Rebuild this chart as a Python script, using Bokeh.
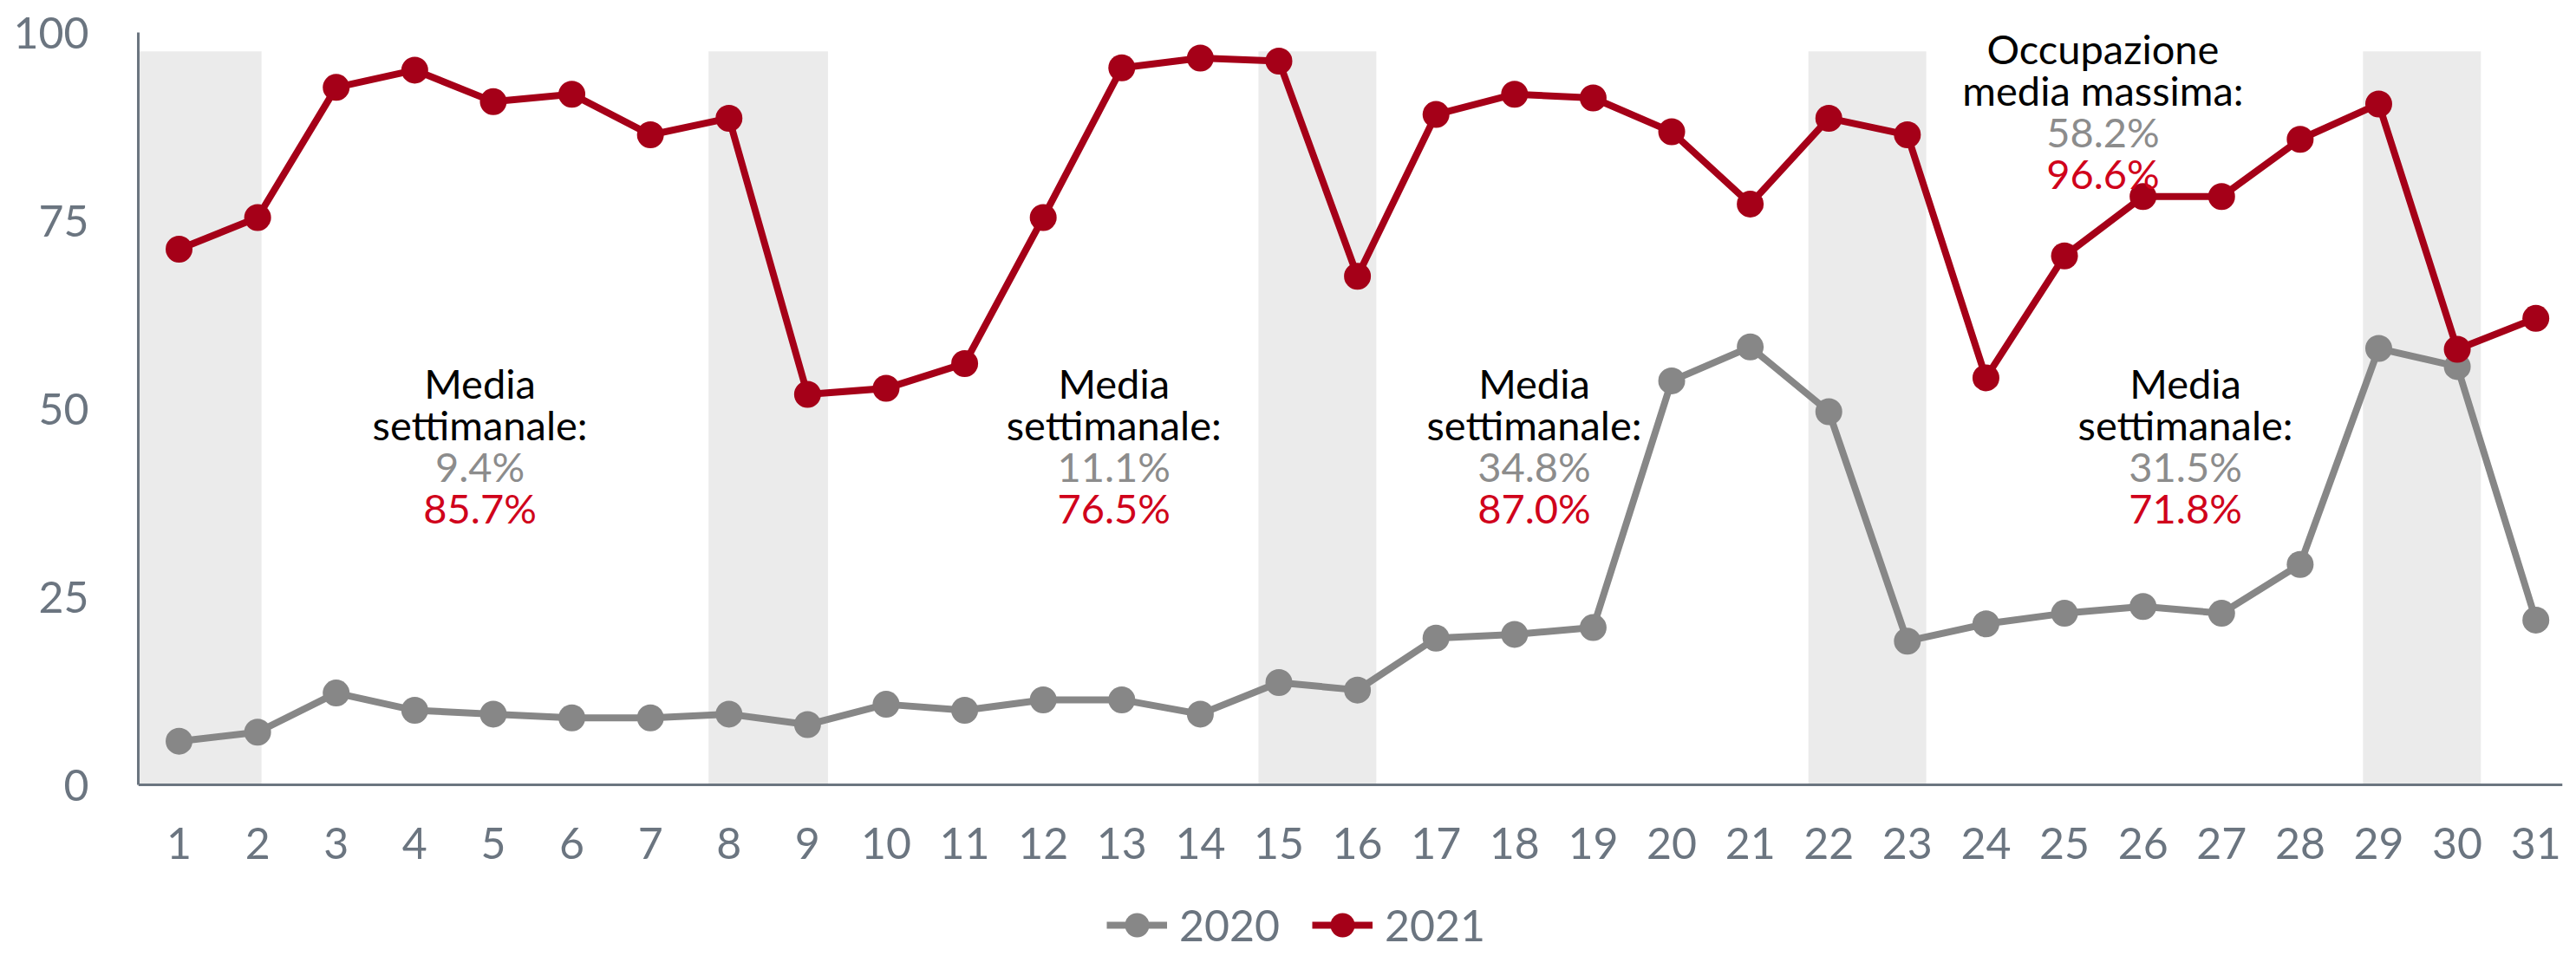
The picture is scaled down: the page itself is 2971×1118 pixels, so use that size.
from bokeh.plotting import figure
from bokeh.models import Range1d, FixedTicker, Legend, LegendItem, ColumnDataSource
from bokeh.core.properties import value
from bokeh.embed import file_html
from bokeh.resources import INLINE

# ---------------- data ----------------
days = list(range(1, 32))
occ_2020 = [5.8, 7.0, 12.2, 9.9, 9.4, 8.9, 8.9, 9.4, 8.0, 10.7, 9.9, 11.3, 11.3, 9.4,
            13.6, 12.6, 19.5, 20.0, 20.9, 53.7, 58.2, 49.6, 19.1, 21.4, 22.8, 23.7,
            22.8, 29.3, 58.0, 55.6, 21.9]
occ_2021 = [71.2, 75.4, 92.7, 95.0, 90.8, 91.8, 86.4, 88.6, 51.9, 52.7, 56.0, 75.4,
            95.3, 96.6, 96.2, 67.6, 89.1, 91.8, 91.3, 86.8, 77.2, 88.6, 86.4, 54.1,
            70.3, 78.2, 78.2, 85.8, 90.5, 57.9, 62.0]
weekend_left = [0.40, 7.74, 14.74, 21.74, 28.80]
weekend_right = [2.05, 9.26, 16.24, 23.24, 30.30]
weekend_top = 97.5
y_ticks = [0, 25, 50, 75, 100]

weekly_title = ["Media", "settimanale:"]
weekly_2020 = ["9.4%", "11.1%", "34.8%", "31.5%"]
weekly_2021 = ["85.7%", "76.5%", "87.0%", "71.8%"]
max_title = ["Occupazione", "media massima:"]
max_2020 = "58.2%"
max_2021 = "96.6%"

# ---------------- styles ----------------
C2020 = "#878787"
C2021 = "#a50018"
TXT_GRAY = "#8c8c8c"
TXT_RED = "#d0021b"
AXIS_COL = "#6b7580"
BAND = "#ebebeb"
FONT = value("Lato")

# frame: y=100 at page y 45, y=0 at page y 913, frame bottom at canvas bottom
H = 1108
px_per_unit = 868 / 100.0
y_bottom = -((8 + H) - 913) / px_per_unit

p = figure(width=2960, height=H, x_range=Range1d(0.481, 31.34), y_range=Range1d(y_bottom, 100),
           output_backend="svg", toolbar_location=None,
           min_border_left=159, min_border_right=5, min_border_top=37, min_border_bottom=0)
p.outline_line_color = None
p.xgrid.visible = False
p.ygrid.visible = False
p.background_fill_color = "white"
p.border_fill_color = "white"

# weekend bands
p.quad(left=weekend_left, right=weekend_right, bottom=0, top=weekend_top,
       fill_color=BAND, line_color=None)

src = ColumnDataSource(dict(day=days, a=occ_2020, b=occ_2021))
l20 = p.line("day", "a", source=src, line_color=C2020, line_width=8)
s20 = p.scatter("day", "a", source=src, size=31, fill_color=C2020, line_color=None)
l21 = p.line("day", "b", source=src, line_color=C2021, line_width=8)
s21 = p.scatter("day", "b", source=src, size=31, fill_color=C2021, line_color=None)

# axes
for ax in (p.xaxis[0], p.yaxis[0]):
    ax.axis_line_color = AXIS_COL
    ax.axis_line_width = 3
    ax.major_tick_line_color = None
    ax.minor_tick_line_color = None
    ax.major_tick_out = 0
    ax.major_tick_in = 0
    ax.major_label_text_font = "Lato"
    ax.major_label_text_font_size = "50px"
    ax.major_label_text_color = AXIS_COL
p.xaxis.ticker = FixedTicker(ticks=days)
p.yaxis.ticker = FixedTicker(ticks=y_ticks)
p.xaxis.fixed_location = 0
p.yaxis.bounds = (0, 100)
p.xaxis.major_label_standoff = 49
p.yaxis.major_label_standoff = 57

# annotations
ann_x = [4.83, 12.90, 18.25, 26.54]
ann_y = 53.4
lh = 48
fs = "47px"
n = len(ann_x)
lines = [
    ([weekly_title[0]] * n, "#000000", 0),
    ([weekly_title[1]] * n, "#000000", lh),
    (weekly_2020, TXT_GRAY, 2 * lh),
    (weekly_2021, TXT_RED, 3 * lh),
]
for txt, col, off in lines:
    p.text(x=ann_x, y=[ann_y] * n, text=txt, text_font=FONT, text_font_size=fs,
           text_align="center", text_baseline="alphabetic", text_color=col, y_offset=off)

mx, my = 25.49, 97.9
mlines = [(max_title[0], "#000000", 0), (max_title[1], "#000000", lh),
          (max_2020, TXT_GRAY, 2 * lh), (max_2021, TXT_RED, 3 * lh)]
for txt, col, off in mlines:
    p.text(x=[mx], y=[my], text=[txt], text_font=FONT, text_font_size=fs,
           text_align="center", text_baseline="alphabetic", text_color=col, y_offset=off)

legend = Legend(items=[LegendItem(label="2020", renderers=[l20, s20]),
                       LegendItem(label="2021", renderers=[l21, s21])],
                orientation="horizontal", location=(1117, 6),
                glyph_width=70, glyph_height=70, label_standoff=14, spacing=37,
                padding=0, margin=0, border_line_color=None, background_fill_alpha=0,
                label_text_font="Lato", label_text_font_size="50px",
                label_text_color=AXIS_COL, label_height=50)
p.add_layout(legend, "center")

open("out.html", "w").write(file_html(p, INLINE))
